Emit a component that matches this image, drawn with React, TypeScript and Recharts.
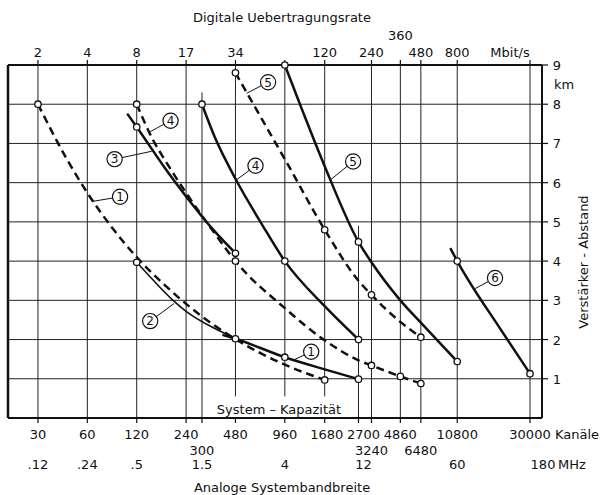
import React from 'react';
import { ComposedChart, Line, Scatter, XAxis, YAxis, ReferenceLine } from 'recharts';

const FONT = '"DejaVu Sans", Verdana, sans-serif';

// bottom axis: Kanäle (channels), with analog bandwidth below
const channelTicks = [30, 60, 120, 240, 300, 480, 960, 1680, 2700, 3240, 4860, 6480, 10800, 30000];
const channelsSecondRow = [300, 3240, 6480];
const bandwidthLabels: Record<number, string> = { 30: '.12', 60: '.24', 120: '.5', 300: '1.5', 960: '4', 2700: '12', 10800: '60' };
// top axis: digital bit rate at the same positions
const bitrateTicks = [30, 60, 120, 240, 480, 960, 1680, 3240, 4860, 6480, 10800, 30000];
const bitrateLabels: Record<number, string> = { 30: '2', 60: '4', 120: '8', 240: '17', 480: '34', 1680: '120', 3240: '240', 4860: '360', 6480: '480', 10800: '800' };
const kmTicks = [1, 2, 3, 4, 5, 6, 7, 8, 9];
const kmGrid = [1, 2, 3, 4, 5, 6, 7, 8];

// curves: channels -> repeater spacing (km)
const dashed1 = [
  { ch: 30, km: 8 }, { ch: 45, km: 6.6 }, { ch: 60, km: 5.74 }, { ch: 85, km: 4.85 }, { ch: 120, km: 4.1 },
  { ch: 180, km: 3.37 }, { ch: 240, km: 2.91 }, { ch: 360, km: 2.35 }, { ch: 480, km: 2.01 },
  { ch: 700, km: 1.63 }, { ch: 960, km: 1.36 }, { ch: 1680, km: 0.97 },
];
const solid2 = [
  { ch: 120, km: 3.97 }, { ch: 150, km: 3.53 }, { ch: 200, km: 3.0 }, { ch: 240, km: 2.72 },
  { ch: 360, km: 2.28 }, { ch: 480, km: 2.03 },
];
const solid1 = [
  { ch: 400, km: 2.12 }, { ch: 480, km: 2.02 }, { ch: 960, km: 1.55 }, { ch: 1680, km: 1.24 }, { ch: 2700, km: 0.99 },
];
const solid3 = [
  { ch: 105, km: 7.76 }, { ch: 120, km: 7.42 }, { ch: 180, km: 6.35 }, { ch: 240, km: 5.65 },
  { ch: 360, km: 4.75 }, { ch: 480, km: 4.2 },
];
const dashed4 = [
  { ch: 120, km: 8 }, { ch: 150, km: 7.11 }, { ch: 180, km: 6.55 }, { ch: 240, km: 5.74 }, { ch: 360, km: 4.7 },
  { ch: 480, km: 4.0 }, { ch: 960, km: 2.8 }, { ch: 1680, km: 1.98 }, { ch: 2700, km: 1.47 },
  { ch: 3240, km: 1.34 }, { ch: 4860, km: 1.06 }, { ch: 6480, km: 0.88 },
];
const solid4 = [
  { ch: 300, km: 8 }, { ch: 360, km: 7.15 }, { ch: 480, km: 6.1 }, { ch: 700, km: 4.92 },
  { ch: 960, km: 4.0 }, { ch: 1680, km: 2.85 }, { ch: 2700, km: 2.0 },
];
const dashed5 = [
  { ch: 480, km: 8.8 }, { ch: 700, km: 7.6 }, { ch: 960, km: 6.6 }, { ch: 1680, km: 4.8 },
  { ch: 2700, km: 3.5 }, { ch: 3240, km: 3.14 }, { ch: 4860, km: 2.45 }, { ch: 6480, km: 2.06 },
];
const solid5 = [
  { ch: 960, km: 9 }, { ch: 1200, km: 7.95 }, { ch: 1680, km: 6.42 }, { ch: 2700, km: 4.49 },
  { ch: 3240, km: 3.97 }, { ch: 4860, km: 3.0 }, { ch: 6480, km: 2.43 }, { ch: 10800, km: 1.44 },
];
const solid6 = [
  { ch: 9800, km: 4.33 }, { ch: 10800, km: 4.0 }, { ch: 20000, km: 2.24 }, { ch: 30000, km: 1.13 },
];

// open circles on the curves
const markers = [
  { ch: 30, km: 8 }, { ch: 1680, km: 0.97 }, { ch: 120, km: 3.97 }, { ch: 480, km: 2.02 },
  { ch: 960, km: 1.55 }, { ch: 2700, km: 0.99 }, { ch: 120, km: 7.42 }, { ch: 480, km: 4.2 },
  { ch: 120, km: 8 }, { ch: 480, km: 4.0 }, { ch: 3240, km: 1.34 }, { ch: 4860, km: 1.06 }, { ch: 6480, km: 0.88 },
  { ch: 300, km: 8 }, { ch: 960, km: 4.0 }, { ch: 2700, km: 2.0 },
  { ch: 480, km: 8.8 }, { ch: 1680, km: 4.8 }, { ch: 3240, km: 3.14 }, { ch: 6480, km: 2.06 },
  { ch: 960, km: 9 }, { ch: 2700, km: 4.49 }, { ch: 10800, km: 1.44 },
  { ch: 10800, km: 4.0 }, { ch: 30000, km: 1.13 },
];

// circled curve numbers and the point each one points at
const curveLabels = [
  { n: '1', ch: 95, km: 5.64, toCh: 64, toKm: 5.52 },
  { n: '2', ch: 145, km: 2.47, toCh: 203, toKm: 2.92 },
  { n: '3', ch: 88, km: 6.6, toCh: 148, toKm: 6.8 },
  { n: '4', ch: 193, km: 7.58, toCh: 145, toKm: 7.3 },
  { n: '4', ch: 636, km: 6.43, toCh: 490, toKm: 6.08 },
  { n: '5', ch: 759, km: 8.56, toCh: 562, toKm: 8.28 },
  { n: '5', ch: 2505, km: 6.54, toCh: 1830, toKm: 6.08 },
  { n: '1', ch: 1390, km: 1.69, toCh: 1086, toKm: 1.48 },
  { n: '6', ch: 18360, km: 3.57, toCh: 13900, toKm: 3.3 },
];

const X_DOMAIN = [19.7, 35500];

const BottomTick = (props: any) => {
  const { x, payload } = props;
  const v = payload.value;
  const second = channelsSecondRow.includes(v);
  const dx = v === 2700 ? 5 : v === 1680 ? 2 : 0;
  return (
    <g fontFamily={FONT} fontSize={13} fill="#111">
      <text x={x + dx} y={second ? 455 : 439} textAnchor="middle">{v}</text>
      {bandwidthLabels[v] && <text x={x + dx} y={469} textAnchor="middle">{bandwidthLabels[v]}</text>}
      {v === 30000 && (
        <>
          <text x={x + 25} y={439}>Kanäle</text>
          <text x={x + 13} y={469} textAnchor="middle">180</text>
          <text x={x + 28} y={469}>MHz</text>
        </>
      )}
    </g>
  );
};

const TopTick = (props: any) => {
  const { x, payload } = props;
  const t = bitrateLabels[payload.value];
  if (!t) return <g />;
  return (
    <text x={x} y={payload.value === 4860 ? 40 : 57} textAnchor="middle" fontFamily={FONT} fontSize={13} fill="#111">
      {t}
    </text>
  );
};

const RightTick = (props: any) => {
  const { y, payload } = props;
  return (
    <text x={557} y={y + 5} textAnchor="middle" fontFamily={FONT} fontSize={13} fill="#111">
      {payload.value}
    </text>
  );
};

const Marker = (p: any) => <circle cx={p.cx} cy={p.cy} r={3.2} fill="#fff" stroke="#111" strokeWidth={1.3} />;

const CircledNumber = (p: any) => (
  <g>
    <circle cx={p.cx} cy={p.cy} r={7.6} fill="#fff" stroke="#111" strokeWidth={1.2} />
    <text x={p.cx} y={p.cy + 4.3} textAnchor="middle" fontFamily={FONT} fontSize={12} fill="#111">
      {p.payload.n}
    </text>
  </g>
);

function gridExtent(ch: number): [number, number] {
  if (ch === 300) return [0, 8.3];
  if (ch === 2700) return [0, 4.9];
  if (ch === 480 || ch === 960 || ch === 1680) return [0.55, 9];
  return [0, 9];
}

export default function App() {
  const thick = 2.5;
  return (
    <div style={{ position: 'absolute', left: 0, top: 0, width: 603, height: 495, background: '#fff' }}>
      <ComposedChart width={603} height={495} margin={{ top: 35, right: 21, bottom: 47, left: 8 }}>
        <XAxis
          dataKey="ch"
          type="number"
          scale="log"
          domain={X_DOMAIN}
          allowDataOverflow
          ticks={channelTicks}
          interval={0}
          height={30}
          tickSize={5}
          tick={<BottomTick />}
          axisLine={{ stroke: '#111', strokeWidth: 2 }}
          tickLine={{ stroke: '#111', strokeWidth: 1.2 }}
        />
        <XAxis
          xAxisId="top"
          orientation="top"
          dataKey="ch"
          type="number"
          scale="log"
          domain={X_DOMAIN}
          allowDataOverflow
          ticks={bitrateTicks}
          interval={0}
          height={30}
          tickSize={5}
          tick={<TopTick />}
          axisLine={{ stroke: '#111', strokeWidth: 2 }}
          tickLine={{ stroke: '#111', strokeWidth: 1.2 }}
        />
        <YAxis
          orientation="right"
          type="number"
          domain={[0, 9]}
          ticks={kmTicks}
          interval={0}
          width={40}
          tickSize={6}
          tick={<RightTick />}
          axisLine={{ stroke: '#111', strokeWidth: 2 }}
          tickLine={{ stroke: '#111', strokeWidth: 1.2 }}
        />

        {kmGrid.map((k) => (
          <ReferenceLine key={'h' + k} y={k} stroke="#222" strokeWidth={1} />
        ))}
        {channelTicks.map((c) => {
          const [lo, hi] = gridExtent(c);
          return (
            <ReferenceLine
              key={'v' + c}
              segment={[{ x: c, y: lo }, { x: c, y: hi }]}
              stroke="#222"
              strokeWidth={1}
            />
          );
        })}
        <ReferenceLine x={X_DOMAIN[0]} stroke="#111" strokeWidth={2.5} />

        {curveLabels.map((l, i) => (
          <ReferenceLine
            key={'l' + i}
            segment={[{ x: l.ch, y: l.km }, { x: l.toCh, y: l.toKm }]}
            stroke="#111"
            strokeWidth={1}
          />
        ))}

        <Line data={dashed1} dataKey="km" type="monotone" stroke="#111" strokeWidth={thick} strokeDasharray="8 5" dot={false} activeDot={false} isAnimationActive={false} />
        <Line data={solid2} dataKey="km" type="monotone" stroke="#111" strokeWidth={1.6} dot={false} activeDot={false} isAnimationActive={false} />
        <Line data={solid1} dataKey="km" type="monotone" stroke="#111" strokeWidth={thick} dot={false} activeDot={false} isAnimationActive={false} />
        <Line data={solid3} dataKey="km" type="monotone" stroke="#111" strokeWidth={thick} dot={false} activeDot={false} isAnimationActive={false} />
        <Line data={dashed4} dataKey="km" type="monotone" stroke="#111" strokeWidth={thick} strokeDasharray="8 5" dot={false} activeDot={false} isAnimationActive={false} />
        <Line data={solid4} dataKey="km" type="monotone" stroke="#111" strokeWidth={thick} dot={false} activeDot={false} isAnimationActive={false} />
        <Line data={dashed5} dataKey="km" type="monotone" stroke="#111" strokeWidth={thick} strokeDasharray="8 5" dot={false} activeDot={false} isAnimationActive={false} />
        <Line data={solid5} dataKey="km" type="monotone" stroke="#111" strokeWidth={thick} dot={false} activeDot={false} isAnimationActive={false} />
        <Line data={solid6} dataKey="km" type="monotone" stroke="#111" strokeWidth={thick} dot={false} activeDot={false} isAnimationActive={false} />

        <Scatter data={markers} dataKey="km" shape={<Marker />} isAnimationActive={false} />
        <Scatter data={curveLabels} dataKey="km" shape={<CircledNumber />} isAnimationActive={false} />
      </ComposedChart>

      <svg width={603} height={495} style={{ position: 'absolute', left: 0, top: 0, pointerEvents: 'none' }}>
        <g fontFamily={FONT} fontSize={13} fill="#111">
          <text x={282} y={22} textAnchor="middle">Digitale Uebertragungsrate</text>
          <text x={510} y={57} textAnchor="middle">Mbit/s</text>
          <text x={564} y={89} textAnchor="middle">km</text>
          <text x={588} y={262} textAnchor="middle" transform="rotate(-90 588 262)">Verstärker - Abstand</text>
          <text x={279} y={414} textAnchor="middle">System – Kapazität</text>
          <text x={282} y={492} textAnchor="middle">Analoge Systembandbreite</text>
        </g>
      </svg>
    </div>
  );
}
